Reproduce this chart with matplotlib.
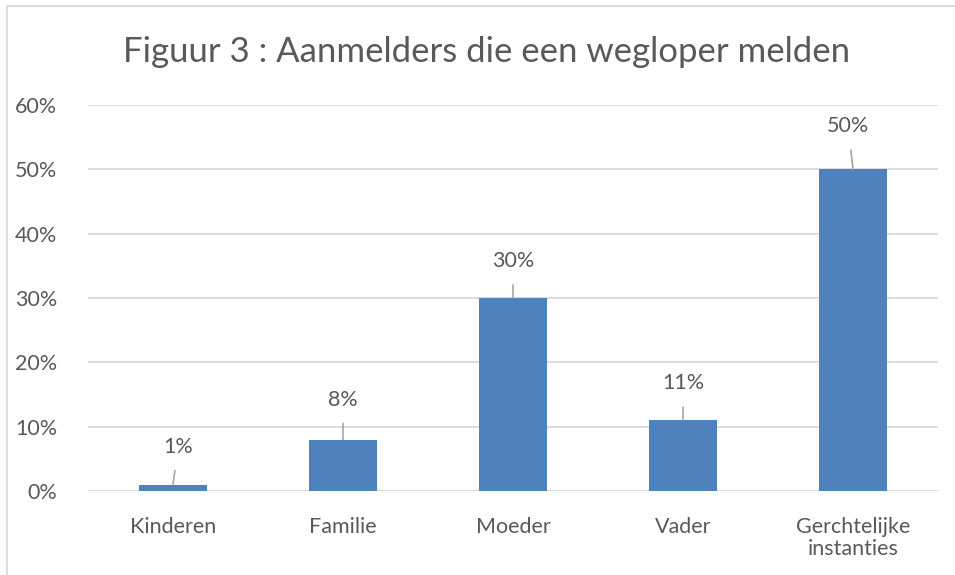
import matplotlib
matplotlib.use("Agg")
import matplotlib.pyplot as plt
from matplotlib.patches import Rectangle

# data
categories = ["Kinderen", "Familie", "Moeder", "Vader", "Gerchtelijke\ninstanties"]
values = [1, 8, 30, 11, 50]
y_ticks = [0, 10, 20, 30, 40, 50, 60]

# label placement (pixels, relative to bar top)
label_offsets = [(5, 38), (0, 40), (0, 37), (0, 37), (-5, 43)]

BAR = "#4F81BD"
TXT = "#595959"
GRID = "#D9D9D9"

plt.rcParams["font.family"] = ["Lato", "DejaVu Sans"]

fig = plt.figure(figsize=(9.55, 5.75), dpi=100)
ax = fig.add_axes([88 / 955, 1 - 491 / 575, 850 / 955, 386 / 575])

x = range(len(categories))
ax.bar(x, values, width=0.4, color=BAR, zorder=3)

ax.set_ylim(0, 60)
ax.set_xlim(-0.5, len(categories) - 0.5)
ax.set_yticks(y_ticks)
ax.set_yticklabels([f"{t}%" for t in y_ticks])
ax.set_xticks(list(x))
ax.set_xticklabels(categories, linespacing=1.1)
ax.grid(axis="y", color=GRID, lw=1.3, zorder=0)
for s in ax.spines.values():
    s.set_visible(False)
ax.tick_params(length=0, labelsize=15.5, colors=TXT)
ax.tick_params(axis="y", pad=22)
ax.tick_params(axis="x", pad=19)

for i, v in enumerate(values):
    dx, dy = label_offsets[i]
    ax.annotate(f"{v}%", xy=(i, v), xytext=(dx, dy), textcoords="offset pixels",
                ha="center", va="center", fontsize=15.5, color=TXT,
                arrowprops=dict(arrowstyle="-", color="#A6A6A6", lw=1.2,
                                shrinkA=8, shrinkB=0))

fig.text(487 / 955, 1 - 52 / 575, "Figuur 3 : Aanmelders die een wegloper melden",
         ha="center", va="center", fontsize=25, color=TXT)

fig.patches.append(Rectangle((7 / 955, -0.1), 1.2, 1.1 - 6 / 575, transform=fig.transFigure,
                             fill=False, edgecolor=GRID, lw=1.3))

fig.savefig("out.png", dpi=100)
